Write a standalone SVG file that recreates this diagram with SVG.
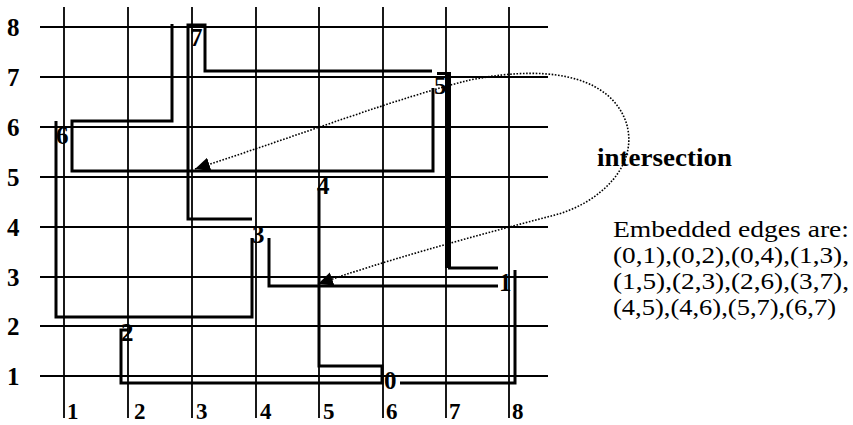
<svg xmlns="http://www.w3.org/2000/svg" width="853" height="425" viewBox="0 0 853 425">
<defs>
<style>
.grid line{stroke:#000;stroke-width:1.8}
.edge{fill:none;stroke:#000;stroke-width:3;stroke-linejoin:miter}
.lbl{font-family:"Liberation Serif","Times New Roman",Times,serif;font-weight:bold;font-size:25px;fill:#000}
.col{font-size:23px}
.txt{font-family:"Liberation Serif","Times New Roman",Times,serif;font-size:24px;fill:#000}
.dot{fill:none;stroke:#000;stroke-width:1.6;stroke-dasharray:1.6 1.6}
</style>
<marker id="ah" markerUnits="userSpaceOnUse" markerWidth="16" markerHeight="14" refX="15" refY="7" orient="auto-start-reverse" viewBox="0 0 16 14">
<path d="M0,0 L15,7 L0,14 Z" fill="#000"/>
</marker>
</defs>
<rect width="853" height="425" fill="#fff"/>
<g id="grid" class="grid">
<line x1="40" y1="27" x2="548" y2="27"/>
<line x1="40" y1="77" x2="548" y2="77"/>
<line x1="40" y1="127" x2="548" y2="127"/>
<line x1="40" y1="177" x2="548" y2="177"/>
<line x1="40" y1="227" x2="548" y2="227"/>
<line x1="40" y1="277" x2="548" y2="277"/>
<line x1="40" y1="326" x2="548" y2="326"/>
<line x1="40" y1="376" x2="548" y2="376"/>
<line x1="64" y1="7" x2="64" y2="418"/>
<line x1="128" y1="7" x2="128" y2="418"/>
<line x1="192" y1="7" x2="192" y2="418"/>
<line x1="256" y1="7" x2="256" y2="418"/>
<line x1="319" y1="7" x2="319" y2="418"/>
<line x1="383" y1="7" x2="383" y2="418"/>
<line x1="446" y1="7" x2="446" y2="418"/>
<line x1="509" y1="7" x2="509" y2="418"/>
</g>
<g id="axis-labels" class="lbl">
<text x="7" y="36">8</text>
<text x="7" y="86">7</text>
<text x="7" y="136">6</text>
<text x="7" y="186">5</text>
<text x="7" y="236">4</text>
<text x="7" y="286">3</text>
<text x="7" y="335">2</text>
<text x="7" y="385">1</text>
<g class="col">
<text x="67" y="419">1</text>
<text x="134" y="419">2</text>
<text x="196" y="419">3</text>
<text x="260" y="419">4</text>
<text x="323" y="419">5</text>
<text x="386" y="419">6</text>
<text x="449" y="419">7</text>
<text x="512" y="419">8</text>
</g>
</g>
<g id="connectors">
<polyline class="edge" points="172,24 172,121 72,121 72,171 433,171 433,88"/>
<polyline class="edge" points="56,121 56,317 252,317 252,238"/>
<polyline class="edge" points="252,219 188,219 188,25 205,25 205,71 432,71"/>
<polyline class="edge" points="437,73.5 448,73.5"/>
<line x1="448" y1="72" x2="448" y2="268" stroke="#000" stroke-width="6"/>
<polyline class="edge" points="448,268 498,268"/>
<polyline class="edge" points="269,238 269,286 498,286"/>
<polyline class="edge" points="515,270 515,383 400,383"/>
<polyline class="edge" points="128,330 121,330 121,383 382,383 382,366 319,366 319,188"/>
<path class="dot" d="M195,169 C300,135 400,97 470,80 C560,62 612,82 626,122 C640,165 600,203 555,215 C470,237 380,262 318,284" marker-start="url(#ah)" marker-end="url(#ah)"/>
</g>
<g id="node-0" class="lbl"><text x="384" y="389">0</text></g>
<g id="node-1" class="lbl"><text x="499" y="291">1</text></g>
<g id="node-2" class="lbl"><text x="121" y="341">2</text></g>
<g id="node-3" class="lbl"><text x="252" y="243">3</text></g>
<g id="node-4" class="lbl"><text x="317" y="194">4</text></g>
<g id="node-5" class="lbl"><text x="434" y="94">5</text></g>
<g id="node-6" class="lbl"><text x="56" y="144">6</text></g>
<g id="node-7" class="lbl"><text x="190" y="46">7</text></g>
<g id="notes">
<text class="lbl" x="597" y="166" textLength="135" lengthAdjust="spacingAndGlyphs">intersection</text>
<text class="txt" x="613" y="237" textLength="236" lengthAdjust="spacingAndGlyphs">Embedded edges are:</text>
<text class="txt" x="613" y="263" textLength="236" lengthAdjust="spacingAndGlyphs">(0,1),(0,2),(0,4),(1,3),</text>
<text class="txt" x="613" y="289" textLength="236" lengthAdjust="spacingAndGlyphs">(1,5),(2,3),(2,6),(3,7),</text>
<text class="txt" x="613" y="315" textLength="223" lengthAdjust="spacingAndGlyphs">(4,5),(4,6),(5,7),(6,7)</text>
</g>
</svg>
